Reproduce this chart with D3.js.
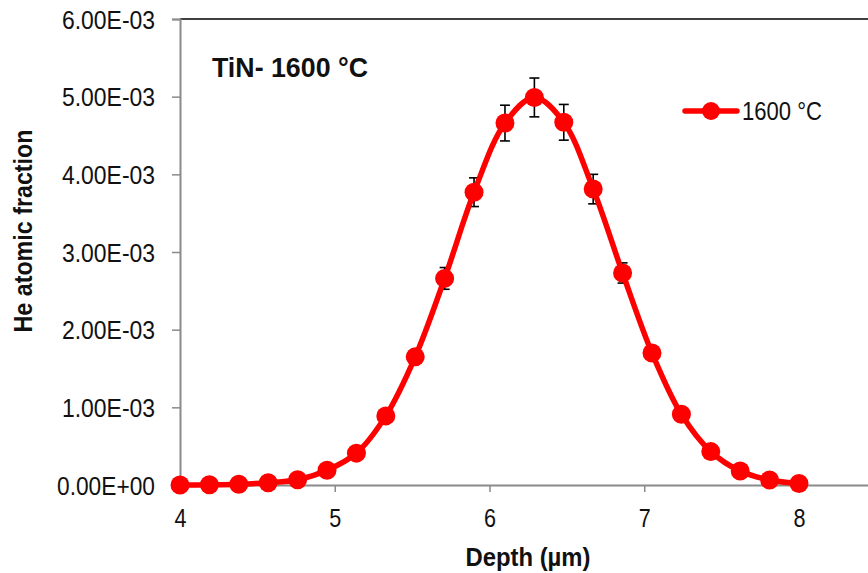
<!DOCTYPE html>
<html>
<head>
<meta charset="utf-8">
<script src="https://cdn.jsdelivr.net/npm/d3@7"></script>
<style>
  html, body { margin: 0; padding: 0; background: #fff; }
  svg { display: block; }
  text { font-family: "Liberation Sans Narrow", "Arial Narrow", "Liberation Sans", Arial, sans-serif; }
</style>
</head>
<body>
<svg id="chart" width="868" height="573"></svg>
<script>
// ---- data ----
const depth = [4.00, 4.19, 4.38, 4.57, 4.76, 4.95, 5.14, 5.33, 5.52, 5.71, 5.90,
               6.10, 6.29, 6.48, 6.67, 6.86, 7.05, 7.24, 7.43, 7.62, 7.81, 8.00];
const heFraction = [0.000000, 0.000003, 0.000010, 0.000030, 0.000068, 0.000190, 0.000410,
                    0.000890, 0.001650, 0.002660, 0.003770, 0.004660, 0.004990, 0.004670,
                    0.003810, 0.002730, 0.001700, 0.000910, 0.000430, 0.000180, 0.000065,
                    0.000020];
const errorBar = [0.000000, 0.000000, 0.000001, 0.000002, 0.000003, 0.000010, 0.000021,
                  0.000045, 0.000083, 0.000140, 0.000185, 0.000230, 0.000250, 0.000230,
                  0.000190, 0.000130, 0.000085, 0.000046, 0.000022, 0.000009, 0.000003,
                  0.000001];
const xTicks = [4, 5, 6, 7, 8];
const yTicks = [0, 0.001, 0.002, 0.003, 0.004, 0.005, 0.006];
const yTickLabels = ["0.00E+00", "1.00E-03", "2.00E-03", "3.00E-03", "4.00E-03", "5.00E-03", "6.00E-03"];
const seriesName = "1600 °C";
const chartTitle = "TiN- 1600 °C";
const xTitle = "Depth (µm)";
const yTitle = "He atomic fraction";

// ---- layout ----
const svg = d3.select("#chart");
const W = 868;
const plotLeft = 180, plotTop = 19, plotBottom = 485;
const x = d3.scaleLinear().domain([4, 9]).range([plotLeft, plotLeft + 5 * 154.75]);
const y = d3.scaleLinear().domain([0, 0.006]).range([plotBottom, plotTop]);
const axisGray = "#8a8a8a";
const red = "#ff0000";
const ink = "#111";

// top border
svg.append("line").attr("x1", plotLeft).attr("x2", W).attr("y1", plotTop).attr("y2", plotTop)
  .attr("stroke", "#000").attr("stroke-width", 1.5);

// y axis
const yAxis = svg.append("g").attr("transform", `translate(${plotLeft},0)`)
  .call(d3.axisLeft(y).tickValues(yTicks).tickSize(8).tickPadding(17)
        .tickFormat((d, i) => yTickLabels[i]));
yAxis.select(".domain").attr("stroke", axisGray).attr("stroke-width", 2);
yAxis.selectAll(".tick line").attr("stroke", axisGray).attr("stroke-width", 1.5);
yAxis.selectAll(".tick text").attr("font-size", 25).attr("fill", ink)
  .attr("font-family", null).attr("dy", "0.36em")
  .attr("textLength", (d, i) => i === 0 ? 98 : 93).attr("lengthAdjust", "spacingAndGlyphs");

// x axis
const xAxis = svg.append("g").attr("transform", `translate(0,${plotBottom})`)
  .call(d3.axisBottom(x).tickValues(xTicks).tickSize(7).tickPadding(17)
        .tickFormat(d3.format("d")));
xAxis.select(".domain").attr("stroke", axisGray).attr("stroke-width", 2);
xAxis.selectAll(".tick line").attr("stroke", axisGray).attr("stroke-width", 1.5);
xAxis.selectAll(".tick text").attr("font-size", 25).attr("fill", ink)
  .attr("font-family", null).attr("textLength", 12).attr("lengthAdjust", "spacingAndGlyphs");

// axis titles
svg.append("text").attr("x", 528).attr("y", 566).attr("text-anchor", "middle")
  .attr("font-size", 25).attr("font-weight", "bold").attr("fill", ink)
  .attr("textLength", 125).attr("lengthAdjust", "spacingAndGlyphs").text(xTitle);
svg.append("text").attr("transform", "translate(32,231) rotate(-90)").attr("text-anchor", "middle")
  .attr("font-size", 25).attr("font-weight", "bold").attr("fill", ink)
  .attr("textLength", 203).attr("lengthAdjust", "spacingAndGlyphs").text(yTitle);

// chart title
svg.append("text").attr("x", 212).attr("y", 77)
  .attr("font-size", 27).attr("font-weight", "bold").attr("fill", ink)
  .attr("textLength", 156).attr("lengthAdjust", "spacingAndGlyphs").text(chartTitle);

const data = depth.map((d, i) => ({ x: d, y: heFraction[i], e: errorBar[i] }));

// error bars (behind markers)
const eb = svg.append("g").attr("stroke", "#000").attr("stroke-width", 1.6);
data.forEach(d => {
  const cx = x(d.x);
  eb.append("line").attr("x1", cx).attr("x2", cx).attr("y1", y(d.y - d.e)).attr("y2", y(d.y + d.e));
  eb.append("line").attr("x1", cx - 5).attr("x2", cx + 5).attr("y1", y(d.y + d.e)).attr("y2", y(d.y + d.e));
  eb.append("line").attr("x1", cx - 5).attr("x2", cx + 5).attr("y1", y(d.y - d.e)).attr("y2", y(d.y - d.e));
});

// smoothed line
const line = d3.line().x(d => x(d.x)).y(d => y(d.y)).curve(d3.curveCatmullRom.alpha(0.5));
svg.append("path").datum(data).attr("d", line).attr("fill", "none")
  .attr("stroke", red).attr("stroke-width", 5.5).attr("stroke-linejoin", "round");

// markers
svg.append("g").selectAll("circle").data(data).join("circle")
  .attr("cx", d => x(d.x)).attr("cy", d => y(d.y)).attr("r", 9.5).attr("fill", red);

// legend
const lg = svg.append("g");
lg.append("line").attr("x1", 685).attr("x2", 737).attr("y1", 111).attr("y2", 111)
  .attr("stroke", red).attr("stroke-width", 5.5).attr("stroke-linecap", "round");
lg.append("circle").attr("cx", 711).attr("cy", 111).attr("r", 9).attr("fill", red);
lg.append("text").attr("x", 742).attr("y", 120).attr("font-size", 25).attr("fill", ink)
  .attr("textLength", 80).attr("lengthAdjust", "spacingAndGlyphs").text(seriesName);
</script>
</body>
</html>
